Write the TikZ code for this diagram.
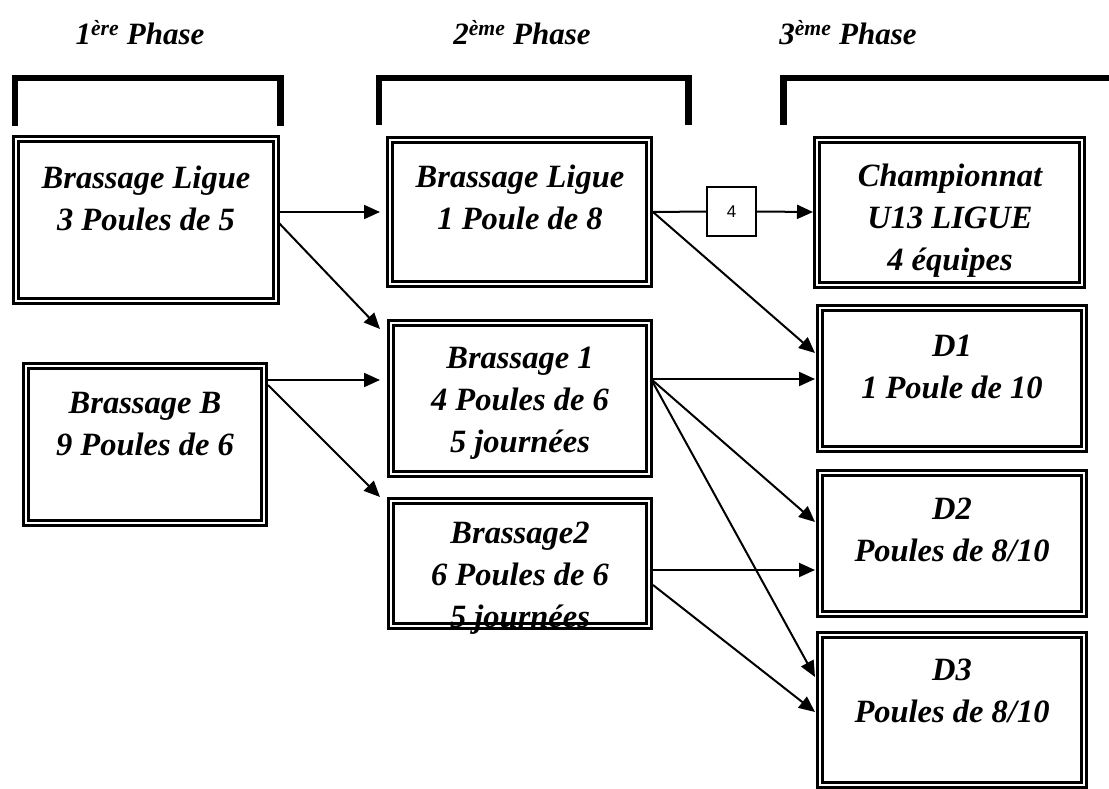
\documentclass[tikz,border=0pt]{standalone}
\usepackage{fontspec}
\setmainfont{Liberation Serif}
\newfontfamily\sansf{Liberation Sans}
\usetikzlibrary{arrows.meta,calc}
\tikzset{
 frame/.style={draw, double, double distance=2, line width=3, outer sep=4, inner sep=0},
 lbl/.style={font=\fontsize{32.5}{42}\selectfont\bfseries\itshape, align=center, inner sep=0},
 phase/.style={font=\fontsize{31}{38}\selectfont\bfseries\itshape, inner sep=0},
 bracket/.style={line width=6.5},
 conn/.style={line width=2, -{Triangle[length=16pt,width=14pt]}},
 plainconn/.style={line width=2},
 smallbox/.style={draw, line width=2, minimum size=49, inner sep=0, font=\sansf\fontsize{17}{17}\selectfont},
}
\newcommand\fbx[5]{\node[frame, minimum width={#4-#2-8}, minimum height={#5-#3-8}] (#1) at ({(#2+#4)/2},{(#3+#5)/2}) {};}
\begin{document}
\begin{tikzpicture}[x=1pt,y=-1pt]
\useasboundingbox (0,0) rectangle (1109,789);
% phase titles
\node[phase] (p1) at (140,33) {1\textsuperscript{ère} Phase};
\node[phase] (p2) at (522,33) {2\textsuperscript{ème} Phase};
\node[phase] (p3) at (848,33) {3\textsuperscript{ème} Phase};
% brackets
\draw[bracket] (15,126) -- (15,78) -- (280.5,78) -- (280.5,126);
\draw[bracket] (379,125) -- (379,78) -- (688.5,78) -- (688.5,125);
\draw[bracket] (783.5,125) -- (783.5,78) -- (1109,78);
% boxes
\fbx{b1}{12}{135}{280}{305}
\fbx{bB}{22}{362}{268}{527}
\fbx{b2}{386}{136}{653}{288}
\fbx{br1}{387}{319}{653}{478}
\fbx{br2}{387}{497}{653}{630}
\fbx{ch}{813}{136}{1086}{289}
\fbx{d1}{816}{304}{1088}{453}
\fbx{d2}{816}{469}{1088}{618}
\fbx{d3}{816}{631}{1088}{789}
% texts
\node[lbl] (t1) at (146,198) {Brassage Ligue\\3 Poules de 5};
\node[lbl] (tB) at (145,424) {Brassage B\\9 Poules de 6};
\node[lbl] (t2) at (520,197) {Brassage Ligue\\1 Poule de 8};
\node[lbl] (tr1) at (520,403) {Brassage 1\\4 Poules de 6\\5 journées};
\node[lbl] (tr2) at (520,578) {Brassage2\\6 Poules de 6\\5 journées};
\node[lbl] (tch) at (950,221) {Championnat\\U13 LIGUE\\4 équipes};
\node[lbl] (td1) at (952,367) {D1\\1 Poule de 10};
\node[lbl] (td2) at (952,530) {D2\\Poules de 8/10};
\node[lbl] (td3) at (952,691) {D3\\Poules de 8/10};
% small box
\node[smallbox] (q4) at (731.5,211.5) {4};
% connectors
\draw[conn] ($(b1.north east)+(0,77)$) -- ($(b2.north west)+(-6,76)$);
\draw[conn] ($(b1.north east)+(-2,87)$) -- ($(br1.north west)+(-7,10)$);
\draw[conn] ($(bB.north east)+(0,18)$) -- ($(br1.north west)+(-7,61)$);
\draw[conn] ($(bB.north east)+(0,23)$) -- ($(br2.north west)+(-7,0)$);
\draw[plainconn] ($(b2.north east)+(0,76)$) -- (q4.west);
\draw[conn] (q4.east) -- ($(ch.north west)+(0,76)$);
\draw[conn] ($(b2.north east)+(0,76)$) -- ($(d1.north west)+(-1,49)$);
\draw[conn] ($(br1.north east)+(-2,60)$) -- ($(d1.north west)+(-1,75)$);
\draw[conn] ($(br1.north east)+(-2,60)$) -- ($(d2.north west)+(-1,53)$);
\draw[conn] ($(br1.north east)+(-2,60)$) -- ($(d3.north west)+(-1,46)$);
\draw[conn] ($(br2.north east)+(0,73)$) -- ($(d2.north west)+(-1,101)$);
\draw[conn] ($(br2.north east)+(0,88)$) -- ($(d3.north west)+(-1,81)$);
\end{tikzpicture}
\end{document}
